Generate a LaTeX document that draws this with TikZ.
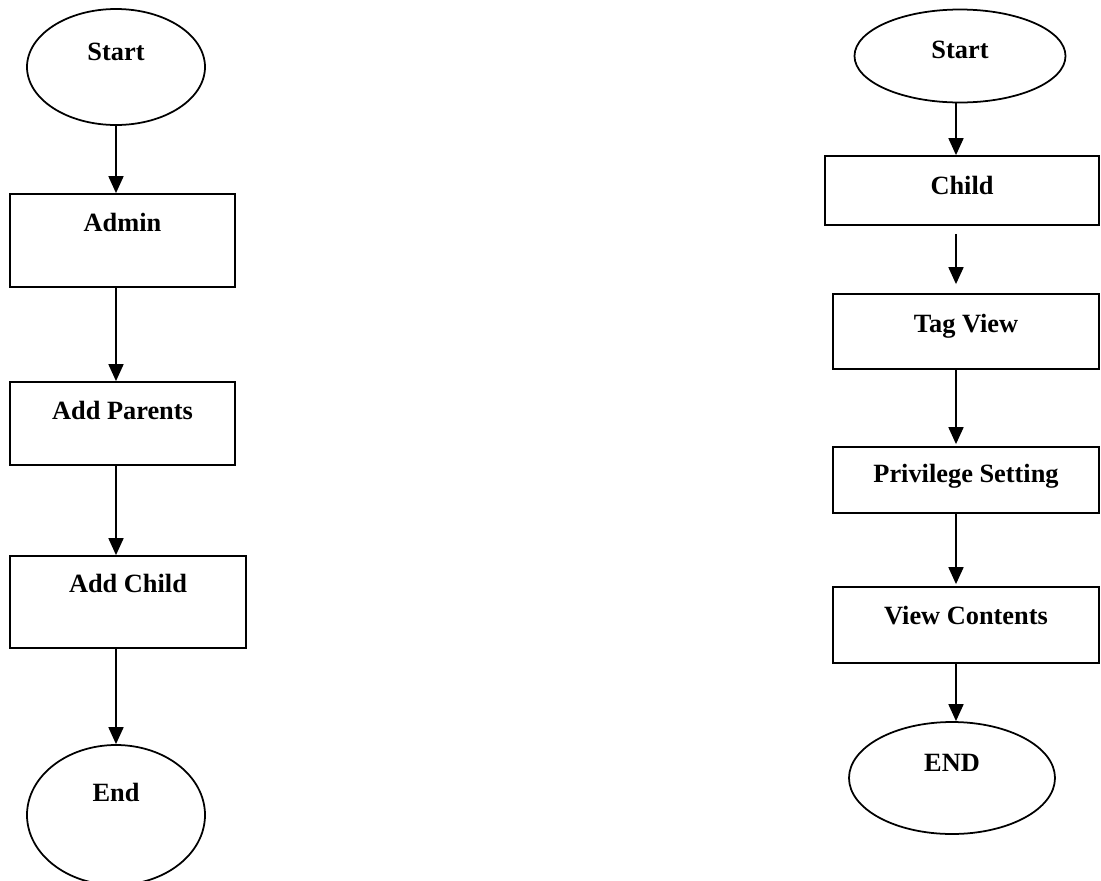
\documentclass[tikz,border=0pt]{standalone}
\usepackage{fontspec}
\setmainfont{Liberation Serif}
\usetikzlibrary{arrows.meta,shapes.geometric}

\tikzset{
    flowbox/.style={draw, rectangle, line width=1pt, inner sep=0pt,
                    font=\fontsize{15}{18}\selectfont\bfseries},
    terminal/.style={draw, ellipse, line width=1pt, inner sep=0pt,
                    font=\fontsize{15}{18}\selectfont\bfseries},
    flowarrow/.style={line width=1pt, -{Triangle[length=0.34cm,width=0.3cm]}}
}

\begin{document}
\begin{tikzpicture}
    \useasboundingbox (0,0) rectangle (22.02,-17.6);

    % admin flow
    \node[terminal, minimum width=3.56cm, minimum height=2.32cm, text depth=17pt]   (start1)   at (2.32,-1.34)  {Start};
    \node[flowbox, minimum width=4.5cm, minimum height=1.86cm, text depth=20.5pt]   (admin)    at (2.45,-4.81)  {Admin};
    \node[flowbox, minimum width=4.5cm, minimum height=1.66cm, text depth=15.4pt]   (parents)  at (2.45,-8.47)  {Add Parents};
    \node[flowbox, minimum width=4.72cm, minimum height=1.84cm, text depth=21pt]    (addchild) at (2.56,-12.04) {Add Child};
    \node[terminal, minimum width=3.56cm, minimum height=2.8cm, text depth=26pt]    (end1)     at (2.32,-16.3)  {End};

    \draw[flowarrow] (start1) -- (start1 |- admin.north);
    \draw[flowarrow] (admin.south -| start1) -- (parents.north -| start1);
    \draw[flowarrow] (parents.south -| start1) -- (addchild.north -| start1);
    \draw[flowarrow] (addchild.south -| start1) -- (end1);

    % child flow
    \coordinate (rcol) at (19.12,0);
    \node[terminal, minimum width=4.22cm, minimum height=1.86cm, text depth=6.8pt]  (start2)   at (19.2,-1.12)  {Start};
    \node[flowbox, minimum width=5.48cm, minimum height=1.38cm, text depth=6.3pt]   (child)    at (19.24,-3.81) {Child};
    \node[flowbox, minimum width=5.32cm, minimum height=1.5cm, text depth=9.7pt]    (tagview)  at (19.32,-6.63) {Tag View};
    \node[flowbox, minimum width=5.32cm, minimum height=1.32cm, text depth=8pt]     (priv)     at (19.32,-9.6)  {Privilege Setting};
    \node[flowbox, minimum width=5.32cm, minimum height=1.52cm, text depth=11.4pt]  (viewc)    at (19.32,-12.5) {View Contents};
    \node[terminal, minimum width=4.12cm, minimum height=2.24cm, text depth=17pt]   (end2)     at (19.04,-15.56) {END};

    \draw[flowarrow] (start2.south -| rcol) -- (child.north -| rcol);
    \draw[flowarrow, shorten <=0.16cm, shorten >=0.18cm] (child.south -| rcol) -- (tagview.north -| rcol);
    \draw[flowarrow, shorten >=0.04cm] (tagview.south -| rcol) -- (priv.north -| rcol);
    \draw[flowarrow, shorten >=0.04cm] (priv.south -| rcol) -- (viewc.north -| rcol);
    \draw[flowarrow] (viewc.south -| rcol) -- (rcol |- end2.north);
\end{tikzpicture}
\end{document}
